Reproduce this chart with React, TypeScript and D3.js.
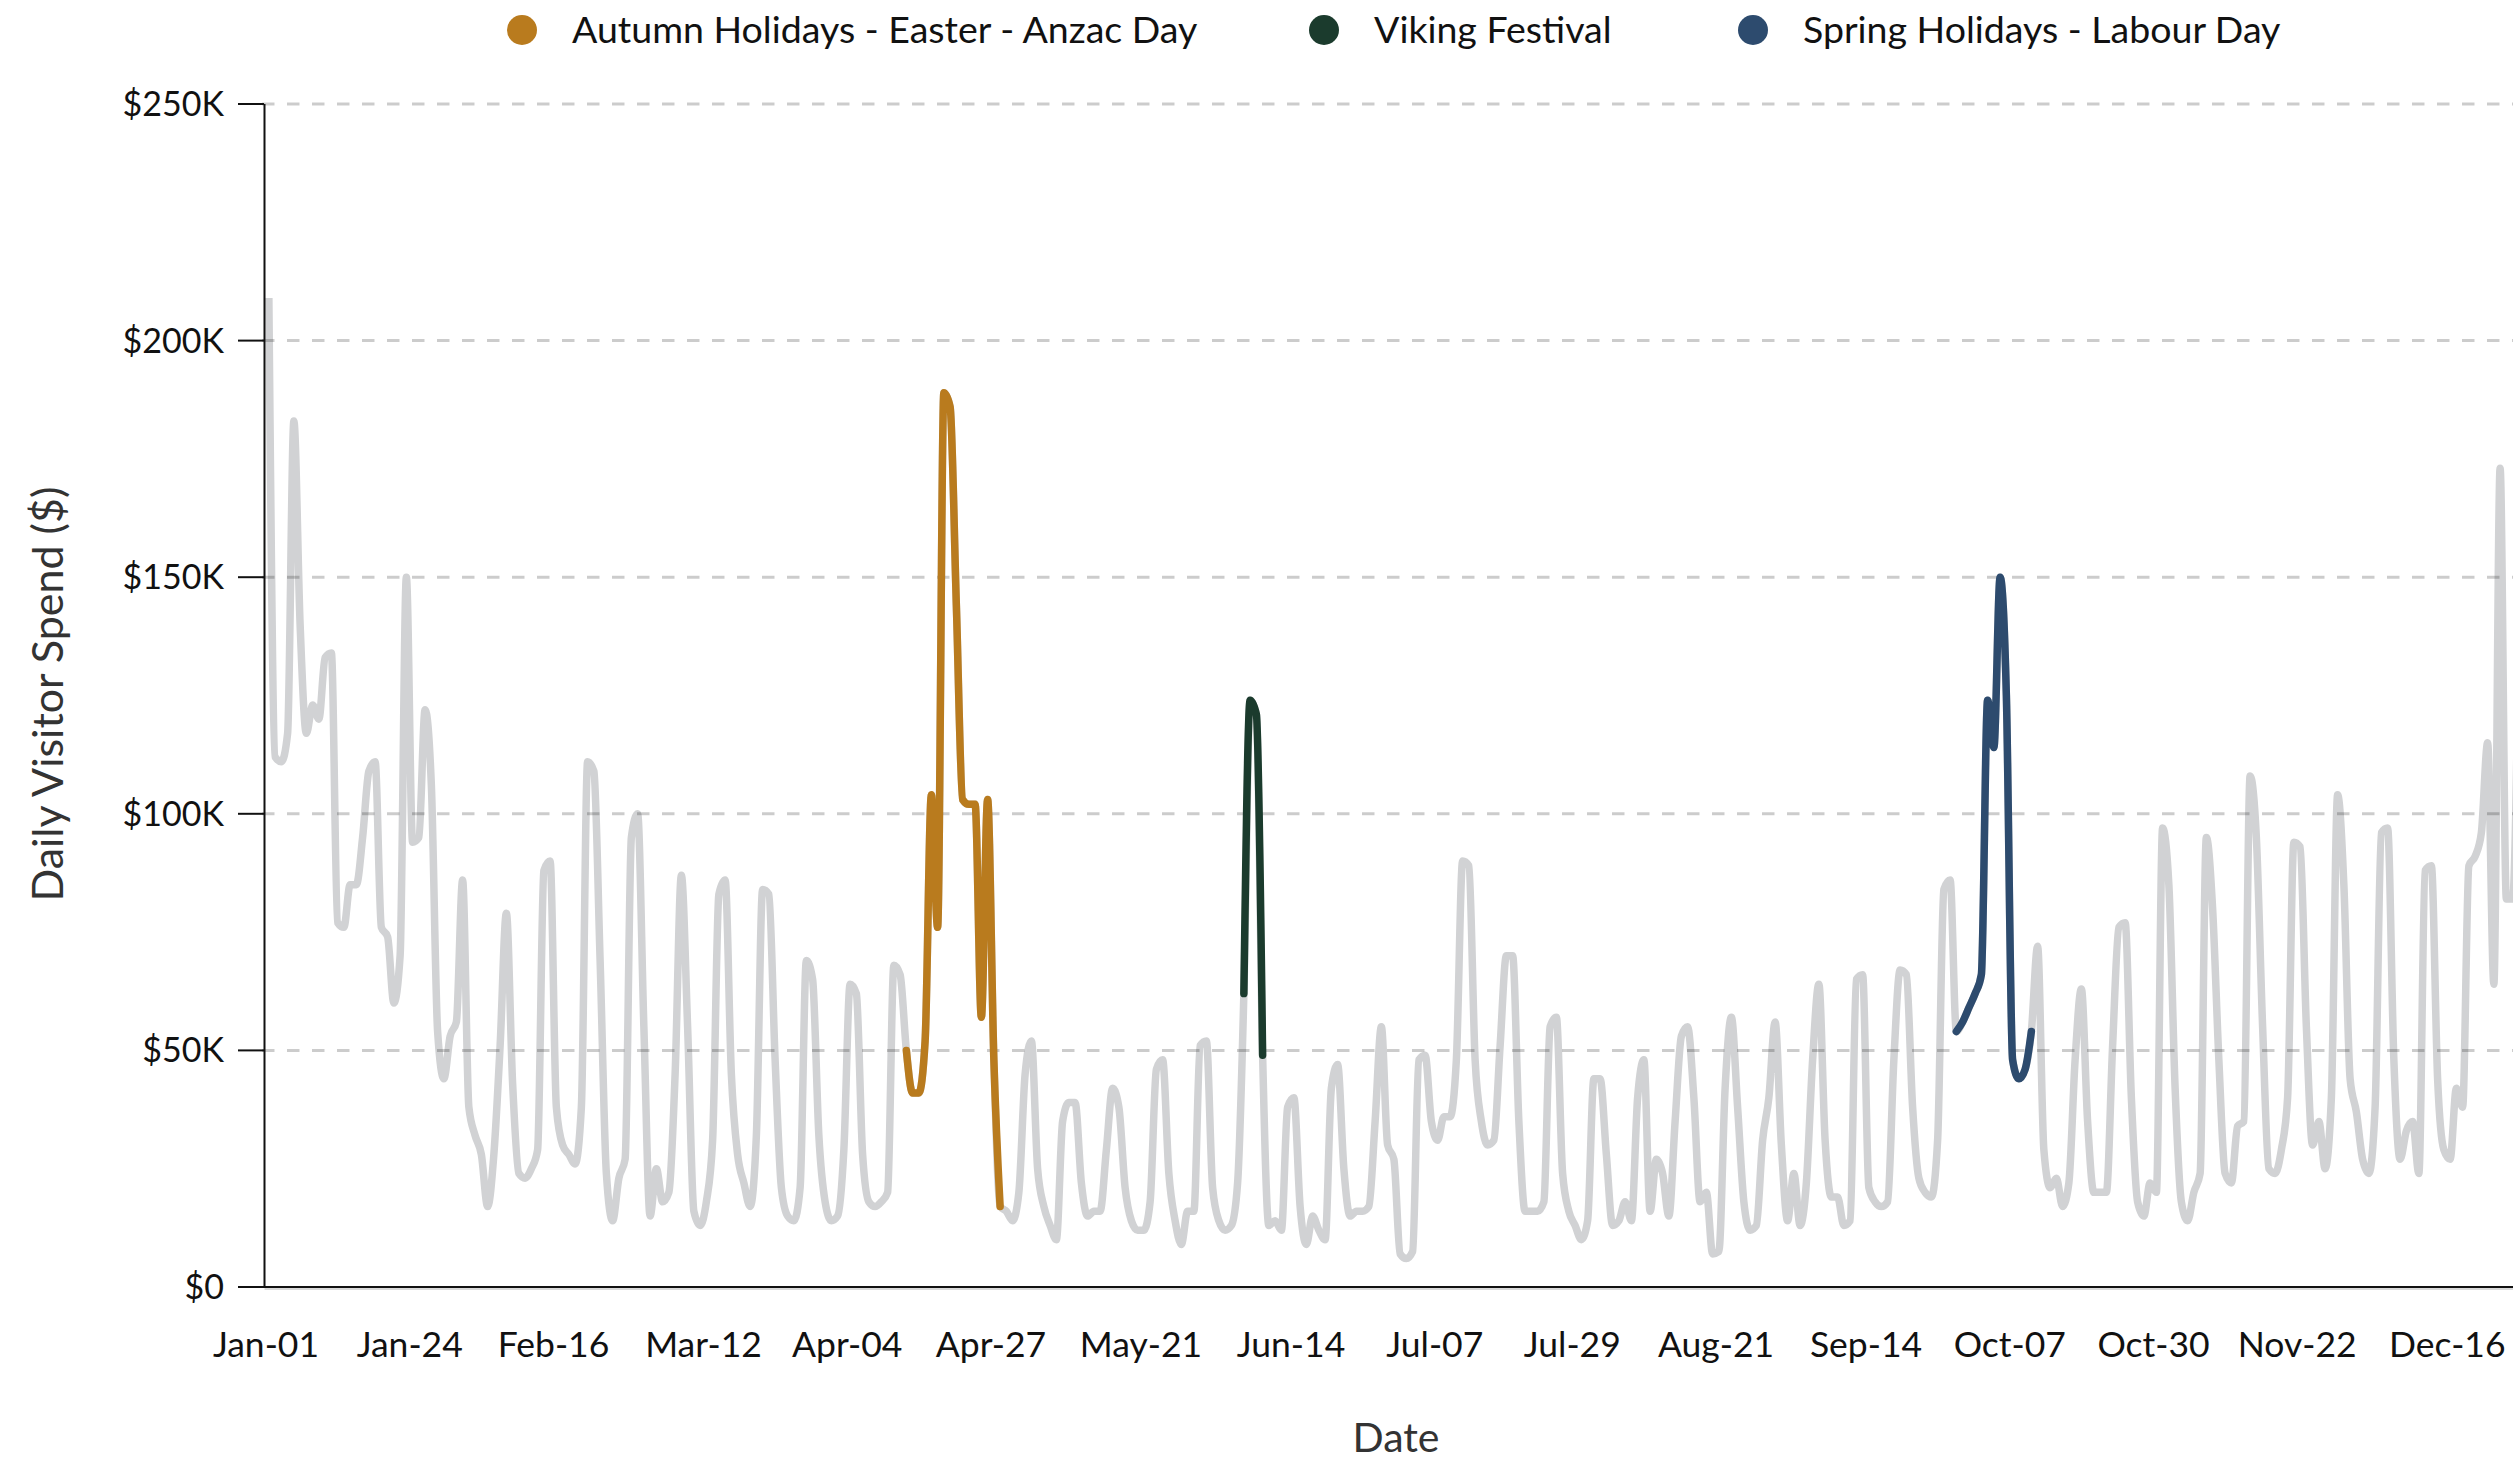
import React from "react";
import * as d3 from "d3";

const YEAR = 2019;

// daily visitor spend in $K, one value per day starting Jan-01
const dailySpendK = [
  209, 112, 111, 117, 183, 140, 117, 123, 120, 133, 134, 77, 76, 85, 85, 95, 109, 111, 76, 74,
  60, 70, 150, 94, 95, 122, 106, 54, 44, 53, 56, 86, 38, 32, 28, 17, 28, 51, 79, 43,
  24, 23, 25, 29, 88, 90, 38, 30, 28, 26, 38, 111, 109, 69, 24, 14, 23, 27, 95, 100,
  55, 15, 25, 18, 20, 45, 87, 55, 16, 13, 18, 31, 83, 86, 45, 28, 22, 17, 32, 84,
  83, 48, 21, 15, 14, 21, 69, 65, 32, 18, 14, 15, 29, 64, 62, 28, 18, 17, 18, 20,
  68, 66, 50, 41, 41, 52, 104, 76, 189, 186, 144, 103, 102, 102, 57, 103, 48, 17, 16, 14,
  20, 45, 52, 25, 17, 13, 10, 35, 39, 39, 22, 15, 16, 16, 29, 42, 38, 21, 14, 12,
  12, 18, 46, 48, 24, 14, 9, 16, 16, 51, 52, 21, 14, 12, 13, 22, 62, 124, 121, 49,
  13, 14, 12, 38, 40, 17, 9, 15, 12, 10, 42, 47, 25, 15, 16, 16, 17, 35, 55, 30,
  27, 7, 6, 7.5, 48, 49, 35, 31, 36, 36, 48, 90, 89, 48, 35, 30, 31, 51, 70, 70,
  35, 16, 16, 16, 18, 55, 57, 24, 16, 13, 10, 14, 44, 44, 28, 13, 14, 18, 14, 40,
  48, 16, 27, 24, 15, 35, 53, 55, 40, 18, 20, 7, 7.5, 42, 57, 38, 18, 12, 13, 31,
  40, 56, 30, 14, 24, 13, 22, 48, 64, 31, 19, 19, 13, 14, 65, 66, 21, 18, 17, 18,
  48, 67, 66, 38, 23, 20, 19, 31, 84, 86, 54, 56, 59, 62, 66, 124, 114, 150, 125, 48,
  44, 46, 54, 72, 29, 21, 23, 17, 22, 48, 63, 35, 20, 20, 20, 51, 76, 77, 40, 18,
  15, 22, 20, 97, 85, 42, 18, 14, 20, 24, 95, 80, 48, 24, 22, 34, 35, 108, 95, 55,
  25, 24, 29, 40, 94, 93, 55, 30, 35, 25, 40, 104, 85, 44, 37, 27, 24, 38, 96, 97,
  48, 27, 33, 35, 24, 88, 89, 44, 29, 27, 42, 38, 89, 91, 96, 115, 64, 173, 82, 82,
  140,
];

const eventNames = [
  "Autumn Holidays - Easter - Anzac Day",
  "Viking Festival",
  "Spring Holidays - Labour Day",
];
const eventStart = ["2019-04-13", "2019-06-06", "2019-09-28"];
const eventEnd = ["2019-04-28", "2019-06-09", "2019-10-10"];
const eventColors = ["#B97B1E", "#1B3B2D", "#2D4B6E"];

const xTickLabels = [
  "Jan-01", "Jan-24", "Feb-16", "Mar-12", "Apr-04", "Apr-27", "May-21", "Jun-14",
  "Jul-07", "Jul-29", "Aug-21", "Sep-14", "Oct-07", "Oct-30", "Nov-22", "Dec-16",
];
const yTicksK = [0, 50, 100, 150, 200, 250];

const W = 2513;
const H = 1460;
const FONT = "Lato, 'Open Sans', sans-serif";
const LINE_W = 7.5;

type Pt = { date: Date; value: number };

export default function App() {
  const x = d3
    .scaleTime()
    .domain([new Date(YEAR, 0, 1), new Date(YEAR + 1, 0, 1)])
    .range([266, 266 + 6.25 * 365]);
  const y = d3.scaleLinear().domain([0, 250]).range([1287, 104]);

  // values are stamped late morning (UTC midnight shown in local time)
  const data: Pt[] = dailySpendK.map((v, i) => ({
    date: new Date(YEAR, 0, 1 + i, 11),
    value: v,
  }));

  const line = d3
    .line<Pt>()
    .x((d) => x(d.date))
    .y((d) => y(d.value))
    .curve(d3.curveMonotoneX);

  const parseDay = d3.timeParse("%Y-%m-%d");
  const parseTick = d3.timeParse("%Y-%b-%d");

  const segments = eventNames.map((name, i) => {
    const s = parseDay(eventStart[i]) as Date;
    const e = d3.timeDay.offset(parseDay(eventEnd[i]) as Date, 1);
    return {
      name,
      color: eventColors[i],
      pts: data.filter((d) => d.date >= s && d.date < e),
    };
  });

  const legendX = [522, 1324, 1753];

  return (
    <svg
      width={W}
      height={H}
      style={{ position: "absolute", left: 0, top: 0, display: "block" }}
      fontFamily={FONT}
    >
      <rect width={W} height={H} fill="#fff" />

      {/* legend */}
      {segments.map((s, i) => (
        <g key={s.name} transform={`translate(${legendX[i]},30)`}>
          <circle r={15} fill={s.color} />
          <text x={50} dy="0.35em" fontSize={37.5} fill="#111">
            {s.name}
          </text>
        </g>
      ))}

      {/* base line */}
      <path
        d={line(data) || ""}
        fill="none"
        stroke="#D1D2D4"
        strokeWidth={LINE_W}
        strokeLinejoin="miter"
      />

      {/* grid */}
      {yTicksK
        .filter((t) => t > 0)
        .map((t) => (
          <line
            key={t}
            x1={262}
            x2={W}
            y1={y(t)}
            y2={y(t)}
            stroke="#000"
            strokeOpacity={0.2}
            strokeWidth={3}
            strokeDasharray="12.5 12.5"
          />
        ))}

      {/* highlighted periods */}
      {segments.map((s) => (
        <path
          key={s.name}
          d={line(s.pts) || ""}
          fill="none"
          stroke={s.color}
          strokeWidth={LINE_W}
          strokeLinecap="round"
          strokeLinejoin="miter"
        />
      ))}

      {/* axes */}
      <line x1={264.5} x2={W} y1={1289} y2={1289} stroke="#ccc" strokeWidth={1.5} />
      <line x1={264.5} x2={W} y1={1287} y2={1287} stroke="#111" strokeWidth={2} />
      <line x1={264.5} x2={264.5} y1={104} y2={1288} stroke="#111" strokeWidth={2} />
      {yTicksK.map((t) => (
        <g key={t} transform={`translate(0,${y(t)})`}>
          <line x1={238} x2={264} stroke="#111" strokeWidth={2} />
          <text x={224} dy="0.35em" textAnchor="end" fontSize={34} fill="#111">
            {t === 0 ? "$0" : `$${t}K`}
          </text>
        </g>
      ))}
      {xTickLabels.map((lbl) => {
        const d = parseTick(`${YEAR}-${lbl}`) as Date;
        return (
          <text
            key={lbl}
            x={x(d)}
            y={1345}
            dy="0.35em"
            textAnchor="middle"
            fontSize={35.5}
            fill="#111"
          >
            {lbl}
          </text>
        );
      })}

      {/* axis titles */}
      <text
        transform="translate(48,694) rotate(-90)"
        textAnchor="middle"
        dy="0.35em"
        fontSize={43}
        fill="#333"
      >
        Daily Visitor Spend ($)
      </text>
      <text x={1396} y={1438} textAnchor="middle" dy="0.35em" fontSize={41} fill="#333">
        Date
      </text>
    </svg>
  );
}
